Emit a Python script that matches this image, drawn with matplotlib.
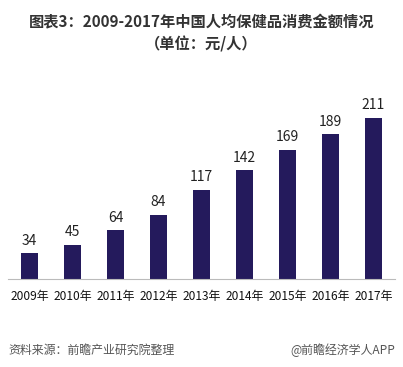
import matplotlib.pyplot as plt

plt.rcParams['font.family'] = ['Noto Sans CJK SC', 'DejaVu Sans']

years = ['2009年', '2010年', '2011年', '2012年', '2013年', '2014年', '2015年', '2016年', '2017年']
values = [34, 45, 64, 84, 117, 142, 169, 189, 211]

fig = plt.figure(figsize=(4.03, 3.67), dpi=100)
ax = fig.add_axes([8 / 403, 88 / 367, 387 / 403, 179 / 367])

x = range(len(years))
ax.bar(x, values, width=0.4, color='#241a5c')
for i, v in zip(x, values):
    ax.text(i, v + 7, str(v), ha='center', va='bottom', fontsize=10, color='#222222')

ax.set_xlim(-0.5, len(years) - 0.5)
ax.set_ylim(0, 234)
ax.set_xticks(list(x))
ax.set_xticklabels(years, fontsize=8.6, color='#111111')
ax.tick_params(axis='x', length=0, pad=8)
ax.set_yticks([])
for s in ['top', 'right', 'left']:
    ax.spines[s].set_visible(False)
ax.spines['bottom'].set_color('#bbbbbb')

fig.text(0.5, 1 - 22 / 367, '图表3：2009-2017年中国人均保健品消费金额情况', ha='center', va='center',
         fontsize=11, fontweight='bold', color='#333333')
fig.text(0.5, 1 - 44 / 367, '（单位：元/人）', ha='center', va='center',
         fontsize=11, fontweight='bold', color='#333333')
fig.text(8 / 403, 1 - 350 / 367, '资料来源：前瞻产业研究院整理', ha='left', va='center',
         fontsize=8.6, style='italic', color='#555555')
fig.text(395 / 403, 1 - 350 / 367, '@前瞻经济学人APP', ha='right', va='center',
         fontsize=8.6, color='#555555')

fig.savefig('out.png', dpi=100)
